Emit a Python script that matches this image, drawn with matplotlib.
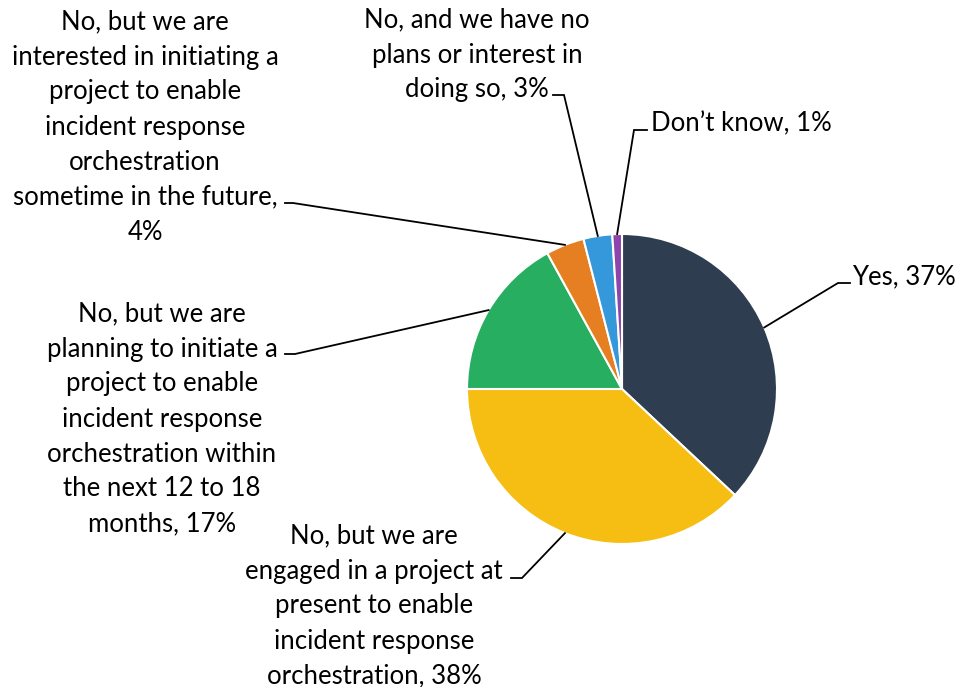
import numpy as np
import matplotlib
matplotlib.use("Agg")
import matplotlib.pyplot as plt

plt.rcParams["font.family"] = ["Lato", "DejaVu Sans"]

W, H = 956, 687
labels = [
    "Yes, 37%",
    "No, but we are\nengaged in a project at\npresent to enable\nincident response\norchestration, 38%",
    "No, but we are\nplanning to initiate a\nproject to enable\nincident response\norchestration within\nthe next 12 to 18\nmonths, 17%",
    "No, but we are\ninterested in initiating a\nproject to enable\nincident response\norchestration\nsometime in the future,\n4%",
    "No, and we have no\nplans or interest in\ndoing so, 3%",
    "Don\u2019t know, 1%",
]
values = [37, 38, 17, 4, 3, 1]
colors = ["#2E3E50", "#F6BE12", "#27AE60", "#E67E22", "#3498DB", "#8E44AD"]

# label placement (pixel space, y from top): text anchor, alignment, elbow start/end
label_pos = [(852, 277, "left"), (374, 606, "center"), (162, 419, "center"),
             (145, 127, "center"), (477, 55, "center"), (651, 124, "left")]
elbows = [((850, 283), (838, 283)), ((511, 578), (522, 578)), ((285, 354), (295, 354)),
          ((285, 203), (293, 203)), ((553, 95), (564, 95)), ((647, 130), (634, 130))]

CX, CY, R = 622, 389, 155

fig = plt.figure(figsize=(W / 100, H / 100), dpi=100)
ax = fig.add_axes([0, 0, 1, 1])
ax.set_xlim(0, W)
ax.set_ylim(0, H)
ax.set_aspect("equal")
ax.axis("off")

wedges, _ = ax.pie(values, colors=colors, startangle=90, counterclock=False,
                   center=(CX, H - CY), radius=R,
                   wedgeprops=dict(edgecolor="white", linewidth=1.5))
ax.set_xlim(0, W)
ax.set_ylim(0, H)

for w, lab, (tx, ty, ha), (p0, p1) in zip(wedges, labels, label_pos, elbows):
    mid = np.deg2rad((w.theta1 + w.theta2) / 2)
    ex, ey = CX + R * np.cos(mid), H - CY + R * np.sin(mid)
    ax.plot([p0[0], p1[0], ex], [H - p0[1], H - p1[1], ey], color="black", lw=1.3,
            solid_joinstyle="miter")
    ax.text(tx, H - ty, lab, ha=ha, va="center", multialignment="center",
            fontsize=18.5, linespacing=1.5, color="black")

fig.savefig("out.png", dpi=100)
